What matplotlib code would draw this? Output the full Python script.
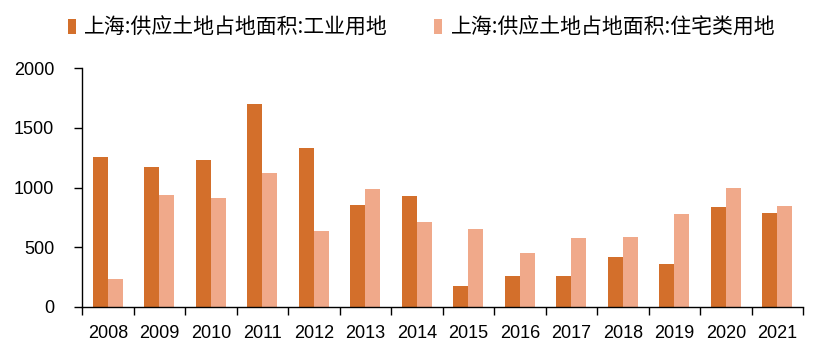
import numpy as np
import matplotlib.pyplot as plt

plt.rcParams['font.family'] = ['Liberation Sans', 'Noto Sans CJK SC', 'DejaVu Sans']

years = ['2008', '2009', '2010', '2011', '2012', '2013', '2014',
         '2015', '2016', '2017', '2018', '2019', '2020', '2021']
industrial = [1260, 1173, 1232, 1701, 1332, 855, 930,
              176, 260, 260, 419, 360, 838, 788]
residential = [235, 938, 913, 1123, 637, 989, 712,
               654, 452, 578, 587, 779, 997, 846]
labels = ['上海:供应土地占地面积:工业用地', '上海:供应土地占地面积:住宅类用地']
colors = ['#D36F2B', '#F0A98A']

fig = plt.figure(figsize=(8.27, 3.54), dpi=100)
ax = fig.add_axes([0.0992, 0.133, 0.872, 0.674])

x = np.arange(len(years))
w = 0.29
ax.bar(x - w / 2, industrial, width=w, color=colors[0], label=labels[0])
ax.bar(x + w / 2, residential, width=w, color=colors[1], label=labels[1])

ax.set_xlim(-0.5, len(years) - 0.5)
ax.set_ylim(0, 2000)
ax.set_yticks([0, 500, 1000, 1500, 2000])

# boundary ticks (major) and centred labels (minor)
ax.set_xticks(np.arange(-0.5, len(years), 1.0))
ax.set_xticklabels([])
ax.set_xticks(x, minor=True)
ax.set_xticklabels(years, minor=True)
ax.tick_params(axis='x', which='major', direction='out', length=6, width=1)
ax.tick_params(axis='x', which='minor', length=0, pad=13, labelsize=13)
ax.tick_params(axis='y', direction='out', length=6, width=1, pad=14, labelsize=13)

for s in ['top', 'right']:
    ax.spines[s].set_visible(False)
for s in ['left', 'bottom']:
    ax.spines[s].set_linewidth(1)

fig.legend(loc='center left', bbox_to_anchor=(0.082, 0.921), ncol=2, frameon=False,
           prop={'family': ['Noto Sans CJK SC', 'DejaVu Sans'], 'size': 15},
           handlelength=0.4, handleheight=0.75, handletextpad=0.4, columnspacing=2.2,
           borderpad=0, borderaxespad=0)

fig.savefig('out.png', dpi=100)
